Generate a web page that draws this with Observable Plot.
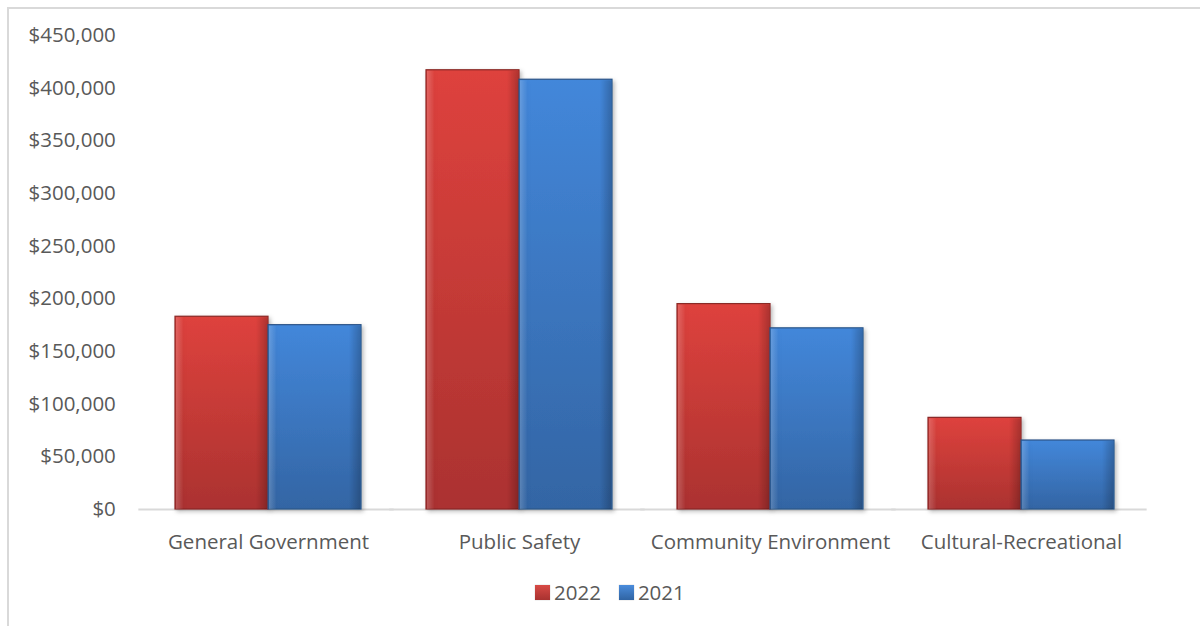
<!DOCTYPE html>
<html>
<head>
<meta charset="utf-8">
<script src="https://cdn.jsdelivr.net/npm/d3@7"></script>
<script src="https://cdn.jsdelivr.net/npm/@observablehq/plot@0.6"></script>
<style>
  html, body { margin: 0; padding: 0; background: #fff; }
  body { width: 1200px; height: 626px; overflow: hidden; position: relative; font-family: "Open Sans", sans-serif; }
  #frame { position: absolute; left: 7px; top: 7px; width: 1300px; height: 700px; border-left: 2px solid #d9d9d9; border-top: 2px solid #d9d9d9; }
  #chart { position: absolute; left: 0; top: 0; }
  #legend { position: absolute; top: 578px; left: 535px; display: flex; align-items: center; font-size: 20.5px; color: #595959; }
  .sw { width: 15px; height: 15px; margin-right: 4px; box-shadow: 0 0 1px rgba(0,0,0,0.3); }
  .item { display: flex; align-items: center; margin-right: 18px; }
</style>
</head>
<body>
<div id="frame"></div>
<div id="chart"></div>
<div id="legend"></div>
<script>
const categories = ["General Government", "Public Safety", "Community Environment", "Cultural-Recreational"];
const years = ["2022", "2021"];
const values2022 = [183000, 417000, 195000, 87000];
const values2021 = [175000, 408000, 172000, 65500];
const yTicks = [0, 50000, 100000, 150000, 200000, 250000, 300000, 350000, 400000, 450000];

const data = [];
categories.forEach((c, i) => {
  data.push({category: c, year: "2022", value: values2022[i]});
  data.push({category: c, year: "2021", value: values2021[i]});
});

const W = 1200, H = 570, ML = 142, MR = 53, MT = 35, MB = 61;
const padInner = 0.26, padOuter = 0.13;
const step = (W - ML - MR) / (categories.length - padInner + 2 * padOuter);
const gapHalf = step * padInner / 2;
const outerGap = step * padOuter;

const defs = () => {
  const svg = d3.create("svg:defs");
  const mk = (id, stops, x2, y2) => {
    const g = svg.append("linearGradient").attr("id", id).attr("x1", 0).attr("y1", 0).attr("x2", x2).attr("y2", y2);
    stops.forEach(([o, c, op]) => g.append("stop").attr("offset", o).attr("stop-color", c).attr("stop-opacity", op ?? 1));
  };
  mk("gRed", [["0%", "#de423d"], ["100%", "#ab3230"]], 0, 1);
  mk("gBlue", [["0%", "#4387da"], ["100%", "#3365a4"]], 0, 1);
  mk("gSheen", [["0%", "#ffffff", 0.18], ["8%", "#ffffff", 0.0], ["88%", "#000000", 0.0], ["100%", "#000000", 0.18]], 1, 0);
  const f = svg.append("filter").attr("id", "shadow").attr("x", "-10%").attr("y", "-10%").attr("width", "130%").attr("height", "130%");
  f.append("feDropShadow").attr("dx", 2).attr("dy", 2).attr("stdDeviation", 2).attr("flood-color", "#000").attr("flood-opacity", 0.25);
  return svg.node();
};

const chart = Plot.plot({
  width: W,
  height: H,
  marginLeft: ML,
  marginRight: MR,
  marginTop: MT,
  marginBottom: MB,
  style: {fontFamily: "Open Sans, sans-serif", fontSize: "20.5px", color: "#595959", background: "transparent"},
  fx: {domain: categories, paddingInner: padInner, paddingOuter: padOuter, label: null, tickSize: 0, tickPadding: 25},
  x: {domain: years, padding: 0, axis: null},
  y: {domain: [0, 450000], ticks: yTicks, tickFormat: d => "$" + d3.format(",")(d), tickSize: 0, tickPadding: ML + outerGap - 115, label: null},
  marks: [
    defs,
    Plot.ruleY([0], {stroke: "#d9d9d9", strokeWidth: 2, insetLeft: -gapHalf - 4, insetRight: -gapHalf}),
    Plot.barY(data.filter(d => d.year === "2022"), {fx: "category", x: "year", y: "value", fill: "url(#gRed)", stroke: "#8a2926", strokeWidth: 1.2}),
    Plot.barY(data.filter(d => d.year === "2021"), {fx: "category", x: "year", y: "value", fill: "url(#gBlue)", stroke: "#2b5589", strokeWidth: 1.2}),
    Plot.barY(data, {fx: "category", x: "year", y: "value", fill: "url(#gSheen)", insetLeft: 1, insetRight: 1, insetTop: 1})
  ]
});
d3.select(chart).selectAll("g[aria-label='bar']").style("filter", "url(#shadow)");
document.getElementById("chart").appendChild(chart);

const legend = document.getElementById("legend");
[["2022", "linear-gradient(#d84a45,#a83230)"], ["2021", "linear-gradient(#4a8cdc,#3064a3)"]].forEach(([t, bg]) => {
  const it = document.createElement("div");
  it.className = "item";
  const sw = document.createElement("div");
  sw.className = "sw";
  sw.style.background = bg;
  const tx = document.createElement("span");
  tx.textContent = t;
  it.appendChild(sw);
  it.appendChild(tx);
  legend.appendChild(it);
});
</script>
</body>
</html>
